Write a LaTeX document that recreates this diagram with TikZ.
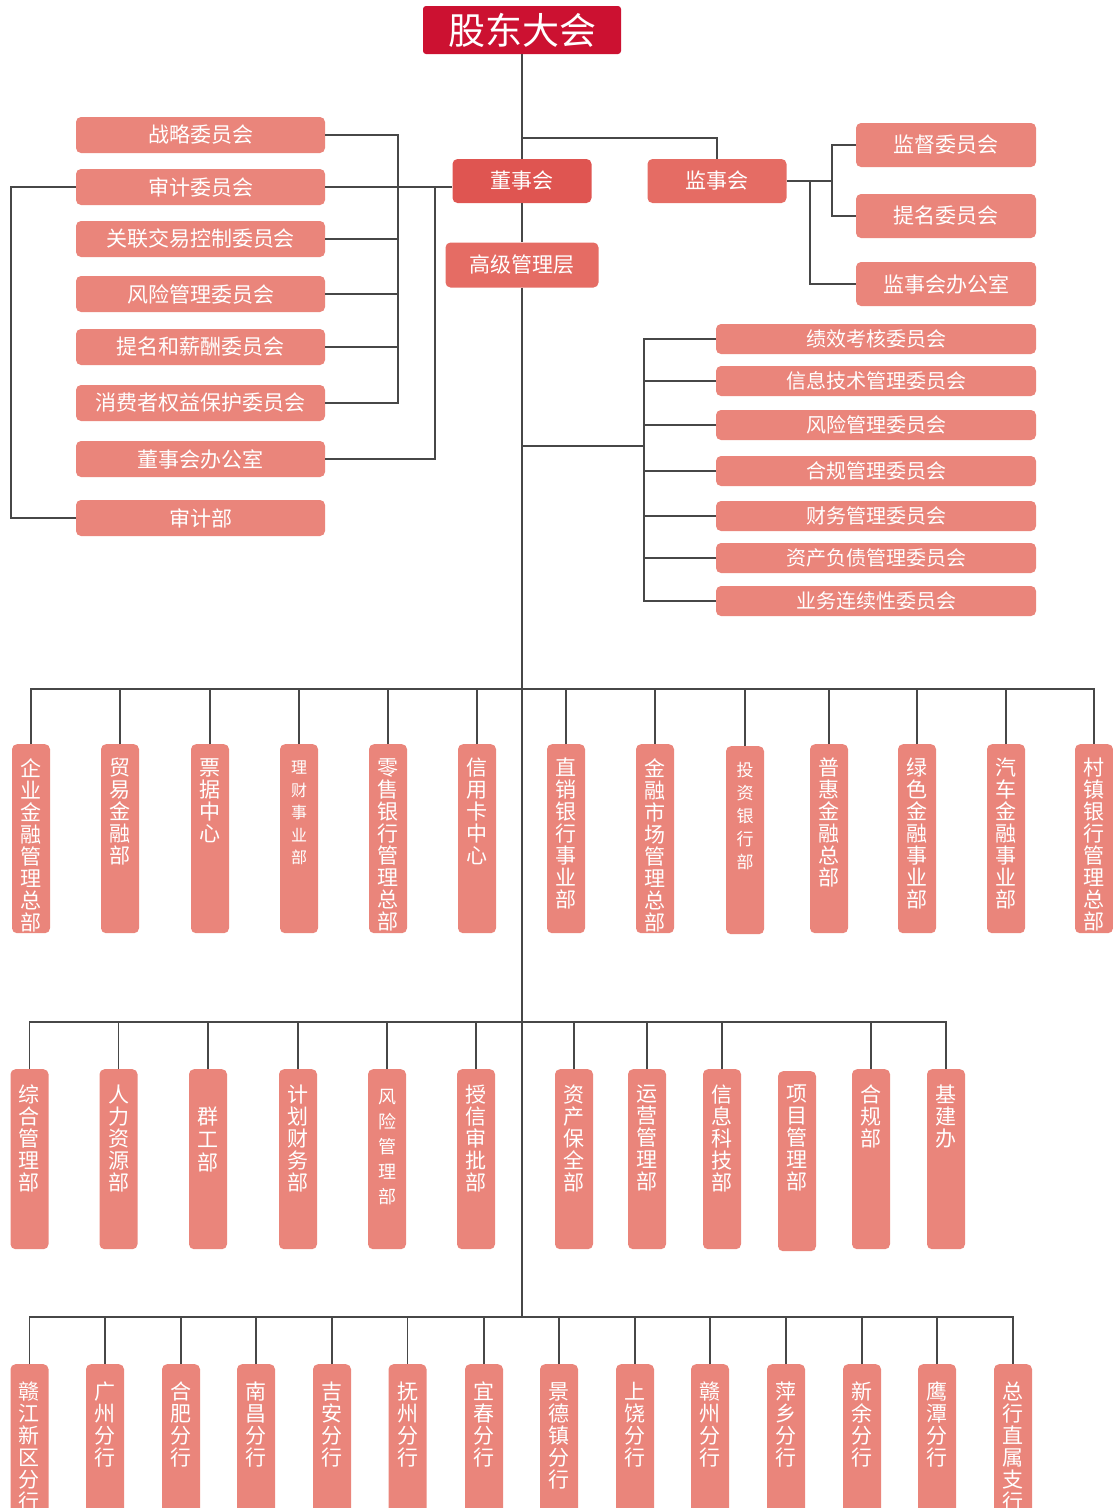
\documentclass[tikz,border=0pt]{standalone}
\usepackage{fontspec}
\setmainfont{Noto Sans CJK SC}
\usetikzlibrary{positioning,calc}

\definecolor{gdred}{HTML}{CC1131}
\definecolor{dsred}{HTML}{DF5551}
\definecolor{jsred}{HTML}{E56C64}
\definecolor{salmon}{HTML}{EA857B}
\definecolor{wire}{HTML}{474747}

% vertical text in a column box
\newcommand{\shu}[3][14pt]{\parbox[t][#2][t]{38pt}{\centering\fontsize{21}{22}\selectfont\vspace*{#1}#3}}

\tikzset{
  line/.style={draw=wire, line width=1.3pt},
  top/.style={fill=gdred, text=white, rounded corners=3pt, minimum width=198pt, minimum height=48pt, inner sep=0pt, font=\fontsize{37}{37}\selectfont},
  board/.style={fill=#1, text=white, rounded corners=5pt, minimum width=139pt, minimum height=44pt, inner sep=0pt, font=\fontsize{21}{21}\selectfont},
  com/.style={fill=salmon, text=white, rounded corners=5pt, minimum width=249pt, minimum height=36pt, inner sep=0pt, font=\fontsize{21}{21}\selectfont},
  sup/.style={com, minimum width=180pt, minimum height=44pt},
  mgt/.style={com, minimum width=320pt, minimum height=30pt, font=\fontsize{20}{20}\selectfont},
  dept/.style={fill=salmon, text=white, rounded corners=5pt, inner sep=0pt, anchor=north}
}

\begin{document}
\begin{tikzpicture}[x=1pt,y=-1pt]

\useasboundingbox (0,0) rectangle (1113,1508);
\clip (0,0) rectangle (1113,1508);

\node[top] (gd) at (522,30) {股东大会};
\node[board=dsred] (ds) at (522,181) {董事会};
\node[board=jsred] (js) at (717,181) {监事会};
\node[board=jsred, minimum width=153pt, minimum height=45pt] (gg) at (522,265) {高级管理层};

% board committees
\node[com] (zl) at (200.5,135) {战略委员会};
\node[com] (sj) at (200.5,187) {审计委员会};
\node[com] (gl) at (200.5,239) {关联交易控制委员会};
\node[com] (fx) at (200.5,294) {风险管理委员会};
\node[com] (tm) at (200.5,347) {提名和薪酬委员会};
\node[com] (xb) at (200.5,403) {消费者权益保护委员会};
\node[com] (db) at (200.5,459) {董事会办公室};
\node[com] (sb) at (200.5,518) {审计部};

% supervisors
\node[sup] (jd) at (946,145) {监督委员会};
\node[sup] (tw) at (946,216) {提名委员会};
\node[sup] (jb) at (946,284) {监事会办公室};

% management committees
\node[mgt] (m1) at (876,339) {绩效考核委员会};
\node[mgt] (m2) at (876,381) {信息技术管理委员会};
\node[mgt] (m3) at (876,425) {风险管理委员会};
\node[mgt] (m4) at (876,471) {合规管理委员会};
\node[mgt] (m5) at (876,516) {财务管理委员会};
\node[mgt] (m6) at (876,558) {资产负债管理委员会};
\node[mgt] (m7) at (876,601) {业务连续性委员会};

% row 1
\node[dept] (h1) at (31,744) {\shu{189pt}{企\\业\\金\\融\\管\\理\\总\\部}};
\node[dept] (h2) at (120,744) {\shu{189pt}{贸\\易\\金\\融\\部}};
\node[dept] (h3) at (210,744) {\shu{189pt}{票\\据\\中\\心}};
\node[dept] (h4) at (299,744) {\shu[17pt]{189pt}{\fontsize{16}{22.5}\selectfont 理\\财\\事\\业\\部}};
\node[dept] (h5) at (388,744) {\shu{189pt}{零\\售\\银\\行\\管\\理\\总\\部}};
\node[dept] (h6) at (477,744) {\shu{189pt}{信\\用\\卡\\中\\心}};
\node[dept] (h7) at (566,744) {\shu{189pt}{直\\销\\银\\行\\事\\业\\部}};
\node[dept] (h8) at (655,744) {\shu{189pt}{金\\融\\市\\场\\管\\理\\总\\部}};
\node[dept] (h9) at (745,746) {\shu[16pt]{188pt}{\fontsize{17}{23}\selectfont 投\\资\\银\\行\\部}};
\node[dept] (h10) at (829,744) {\shu{189pt}{普\\惠\\金\\融\\总\\部}};
\node[dept] (h11) at (917,744) {\shu{189pt}{绿\\色\\金\\融\\事\\业\\部}};
\node[dept] (h12) at (1006,744) {\shu{189pt}{汽\\车\\金\\融\\事\\业\\部}};
\node[dept] (h13) at (1094,744) {\shu{189pt}{村\\镇\\银\\行\\管\\理\\总\\部}};

% row 2
\node[dept] (z1) at (29.5,1069) {\shu[16pt]{180pt}{综\\合\\管\\理\\部}};
\node[dept] (z2) at (118.5,1069) {\shu[16pt]{180pt}{人\\力\\资\\源\\部}};
\node[dept] (z3) at (208,1069) {\shu[38pt]{180pt}{\fontsize{21}{23}\selectfont 群\\工\\部}};
\node[dept] (z4) at (298,1069) {\shu[16pt]{180pt}{计\\划\\财\\务\\部}};
\node[dept] (z5) at (387,1069) {\shu[20pt]{180pt}{\fontsize{18}{25}\selectfont 风\\险\\管\\理\\部}};
\node[dept] (z6) at (476,1069) {\shu[16pt]{180pt}{授\\信\\审\\批\\部}};
\node[dept] (z7) at (574,1069) {\shu[16pt]{180pt}{资\\产\\保\\全\\部}};
\node[dept] (z8) at (647,1069) {\shu[16pt]{180pt}{运\\营\\管\\理\\部}};
\node[dept] (z9) at (722,1069) {\shu[16pt]{180pt}{信\\息\\科\\技\\部}};
\node[dept] (z10) at (797,1071) {\shu[14pt]{180pt}{项\\目\\管\\理\\部}};
\node[dept] (z11) at (871,1069) {\shu[16pt]{180pt}{合\\规\\部}};
\node[dept] (z12) at (946,1069) {\shu[16pt]{180pt}{基\\建\\办}};

% row 3
\node[dept] (f1) at (29.5,1364) {\shu[18pt]{160pt}{赣\\江\\新\\区\\分\\行}};
\node[dept] (f2) at (105,1364) {\shu[18pt]{160pt}{广\\州\\分\\行}};
\node[dept] (f3) at (181,1364) {\shu[18pt]{160pt}{合\\肥\\分\\行}};
\node[dept] (f4) at (256,1364) {\shu[18pt]{160pt}{南\\昌\\分\\行}};
\node[dept] (f5) at (332,1364) {\shu[18pt]{160pt}{吉\\安\\分\\行}};
\node[dept] (f6) at (407.5,1364) {\shu[18pt]{160pt}{抚\\州\\分\\行}};
\node[dept] (f7) at (484,1364) {\shu[18pt]{160pt}{宜\\春\\分\\行}};
\node[dept] (f8) at (559,1364) {\shu[18pt]{160pt}{景\\德\\镇\\分\\行}};
\node[dept] (f9) at (635,1364) {\shu[18pt]{160pt}{上\\饶\\分\\行}};
\node[dept] (f10) at (710,1364) {\shu[18pt]{160pt}{赣\\州\\分\\行}};
\node[dept] (f11) at (786,1364) {\shu[18pt]{160pt}{萍\\乡\\分\\行}};
\node[dept] (f12) at (862,1364) {\shu[18pt]{160pt}{新\\余\\分\\行}};
\node[dept] (f13) at (937,1364) {\shu[18pt]{160pt}{鹰\\潭\\分\\行}};
\node[dept] (f14) at (1013,1364) {\shu[18pt]{160pt}{总\\行\\直\\属\\支\\行}};

\coordinate (t1) at (522,138);
\coordinate (lx1) at (398,0);
\coordinate (lx2) at (435,0);
\coordinate (lx3) at (11,0);
\coordinate (rx1) at (832,0);
\coordinate (rx2) at (810,0);
\coordinate (mx) at (644,446);
\coordinate (y1) at (0,689);
\coordinate (y2) at (0,1022);
\coordinate (y3) at (0,1317);

% trunk
\draw[line] (gd) -- (ds);
\draw[line] (ds) -- (gg);
\draw[line] (gg) -- (gg |- y3);
\draw[line] (t1) -| (js);

% board side
\draw[line] (sj.east) -- (sj.east -| ds.west);
\draw[line] (zl.east) -- (zl.east -| lx1) -- (xb.east -| lx1) -- (xb.east);
\foreach \n in {gl,fx,tm} \draw[line] (\n.east) -- (\n.east -| lx1);
\draw[line] (sj.east -| lx2) |- (db.east);
\draw[line] (sj.west) -- (sj.west -| lx3) |- (sb.west);

% supervisors side
\draw[line] (js.east) -- (js.east -| rx1);
\draw[line] (jd.west) -- (jd.west -| rx1) -- (tw.west -| rx1) -- (tw.west);
\draw[line] (js.east -| rx2) |- (jb.west);

% management side
\draw[line] (gg |- mx) -- (mx);
\draw[line] (m1.west) -- (m1.west -| mx) -- (m7.west -| mx) -- (m7.west);
\foreach \n in {2,...,6} \draw[line] (m\n.west) -- (m\n.west -| mx);

% rows
\draw[line] (h1.north) |- (h13.north |- y1) -- (h13.north);
\foreach \n in {2,...,12} \draw[line] (h\n.north) -- (h\n.north |- y1);
\draw[line] (z1.north) |- (z12.north |- y2) -- (z12.north);
\foreach \n in {2,3,4,5,6,7,8,9,11} \draw[line] (z\n.north) -- (z\n.north |- y2);
\draw[line] (f1.north) |- (f14.north |- y3) -- (f14.north);
\foreach \n in {2,...,13} \draw[line] (f\n.north) -- (f\n.north |- y3);

\end{tikzpicture}
\end{document}
